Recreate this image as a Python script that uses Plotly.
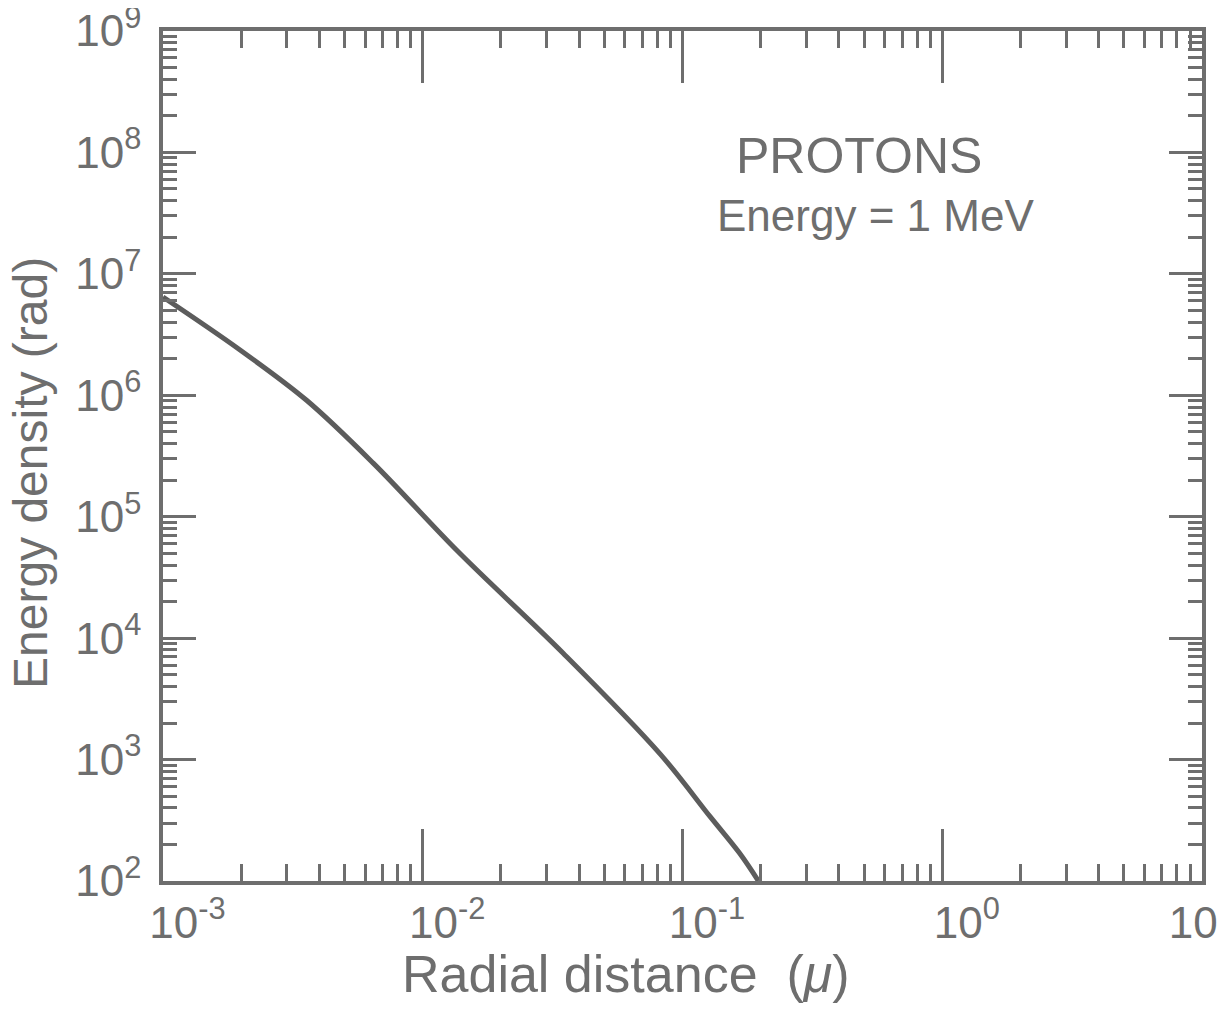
import plotly.graph_objects as go

# Data (radial distance in microns, energy density in rad)
radial_distance = [0.001, 0.00198, 0.00357, 0.00646, 0.0137, 0.0348, 0.0818, 0.128, 0.166, 0.196]
energy_density = [6.44e6, 2.36e6, 9.1e5, 2.75e5, 5.14e4, 7.48e3, 1.12e3, 337, 169, 100]

x_tickvals = [1e-3, 1e-2, 1e-1, 1, 10]
x_ticktext = ["\u2007\u200710<sup>-3</sup>", "\u2007\u200710<sup>-2</sup>", "\u2007\u200710<sup>-1</sup>",
              "\u2007\u200710<sup>0</sup>", "10\u2009\u2009"]
y_tickvals = [1e2, 1e3, 1e4, 1e5, 1e6, 1e7, 1e8, 1e9]
y_ticktext = ["10<sup>%d</sup>\u2009" % k for k in range(2, 10)]

INK = "#6e6e6e"
FONT = "Liberation Sans"

fig = go.Figure()
fig.add_trace(go.Scatter(
    x=radial_distance, y=energy_density, mode="lines",
    line=dict(color="#5c5c5c", width=5, shape="spline", smoothing=1.0),
    showlegend=False, hoverinfo="skip",
))

axis_common = dict(
    type="log", showgrid=False, zeroline=False, automargin=False,
    showline=True, linecolor=INK, linewidth=4, mirror="ticks",
    ticks="inside", tickcolor=INK, tickwidth=3, ticklabeloverflow="allow",
    tickfont=dict(family=FONT, size=44, color=INK),
)

fig.update_xaxes(
    **axis_common,
    range=[-3, 1], tickvals=x_tickvals, ticktext=x_ticktext, ticklen=52,
    minor=dict(ticks="inside", ticklen=17, tickwidth=3, tickcolor=INK, dtick="D1"),
)
fig.update_yaxes(
    **axis_common,
    range=[2, 9], tickvals=y_tickvals, ticktext=y_ticktext, ticklen=33,
    minor=dict(ticks="inside", ticklen=14, tickwidth=3, tickcolor=INK, dtick="D1"),
)

# axis titles
fig.add_annotation(text="Radial distance  (<i>μ</i>)", xref="paper", yref="paper",
                   x=0.4456, y=-0.109, xanchor="center", yanchor="middle", showarrow=False,
                   font=dict(family=FONT, size=52, color=INK))
fig.add_annotation(text="Energy density (rad)", xref="paper", yref="paper",
                   x=-0.128, y=0.48, xanchor="center", yanchor="middle", textangle=-90,
                   showarrow=False, font=dict(family=FONT, size=48, color=INK))

# labels inside the plot
fig.add_annotation(text="PROTONS", xref="paper", yref="paper", x=0.55, y=0.853,
                   xanchor="left", yanchor="middle", showarrow=False,
                   font=dict(family=FONT, size=50, color=INK))
fig.add_annotation(text="Energy = 1 MeV", xref="paper", yref="paper", x=0.531, y=0.783,
                   xanchor="left", yanchor="middle", showarrow=False,
                   font=dict(family=FONT, size=44, color=INK))

# figure + default 8px page margin fills the 1226x1015 window exactly
fig.update_layout(
    width=1210, height=999,
    margin=dict(l=155, r=16, t=23, b=126),
    paper_bgcolor="white", plot_bgcolor="white",
)

fig.write_html("out.html")
